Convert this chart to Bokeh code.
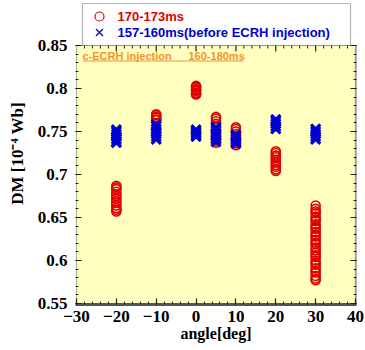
import numpy as np
from bokeh.plotting import figure
from bokeh.models import Range1d, LinearAxis, FixedTicker, Label, BoxAnnotation
from bokeh.embed import file_html
from bokeh.resources import INLINE

# ---------------- data ----------------
RED_LABEL = "170-173ms"
BLUE_LABEL = "157-160ms(before ECRH injection)"

red_at_m20 = [0.687, 0.685, 0.683, 0.680, 0.677, 0.675, 0.672, 0.669, 0.667, 0.664, 0.661, 0.659, 0.657]
red_at_m10 = [0.770, 0.769, 0.767, 0.766, 0.764, 0.763]
red_at_0 = [0.803, 0.802, 0.801, 0.799, 0.798, 0.797, 0.795, 0.794, 0.793]
red_at_5 = [0.767, 0.765, 0.762, 0.759, 0.755, 0.751, 0.747, 0.744, 0.741, 0.739, 0.737]
red_at_10 = [0.755, 0.753, 0.750, 0.747, 0.744, 0.741, 0.738, 0.736, 0.734]
red_at_20 = [0.727, 0.725, 0.722, 0.720, 0.717, 0.714, 0.711, 0.709, 0.706, 0.704]
red_at_30 = [0.664, 0.660, 0.657, 0.655, 0.651, 0.648, 0.646, 0.642, 0.639, 0.637,
             0.633, 0.630, 0.628, 0.624, 0.621, 0.619, 0.615, 0.612, 0.609, 0.606,
             0.604, 0.600, 0.597, 0.595, 0.591, 0.588, 0.586, 0.582, 0.579, 0.577]

blue_at_m20 = [0.752, 0.750, 0.747, 0.744, 0.741, 0.738, 0.737]
blue_at_m10 = [0.758, 0.756, 0.753, 0.750, 0.747, 0.744, 0.741]
blue_at_0 = [0.752, 0.750, 0.748, 0.746, 0.744]
blue_at_5 = [0.755, 0.752, 0.748, 0.745, 0.741, 0.738]
blue_at_10 = [0.746, 0.744, 0.741, 0.738, 0.736]
blue_at_20 = [0.764, 0.762, 0.759, 0.756, 0.753]
blue_at_30 = [0.753, 0.750, 0.747, 0.744, 0.741]

red_groups = {-20: red_at_m20, -10: red_at_m10, 0: red_at_0, 5: red_at_5,
              10: red_at_10, 20: red_at_20, 30: red_at_30}
blue_groups = {-20: blue_at_m20, -10: blue_at_m10, 0: blue_at_0, 5: blue_at_5,
               10: blue_at_10, 20: blue_at_20, 30: blue_at_30}

X_MIN, X_MAX = -30, 40
Y_MIN, Y_MAX = 0.55, 0.85
X_TICKS = [-30, -20, -10, 0, 10, 20, 30, 40]
Y_TICKS = [0.55, 0.6, 0.65, 0.7, 0.75, 0.8, 0.85]
Y_TICK_LABELS = ["0.55", "0.6", "0.65", "0.7", "0.75", "0.8", "0.85"]

NOTE_LEFT = "c-ECRH injection"
NOTE_RIGHT = "160-180ms"

# ---------------- styling / layout (pixels) ----------------
RED = "#E00000"
BLUE = "#0000D0"
ORANGE = "#F5922E"
YELLOW = "#FFFFC0"
SERIF = "Liberation Serif"
SANS = "Liberation Sans"

PAD = 1            # px between frame edge and plotting box
BOX_W, BOX_H = 279, 258   # yellow plotting box
LEG_PX = 43        # legend zone above the box (inside the frame)
kx = BOX_W / (X_MAX - X_MIN)   # px per degree
dy = (Y_MAX - Y_MIN) / BOX_H   # data per px


def xpx(px):   # px offset from box left -> data x
    return X_MIN + px / kx


def ypx(px):   # px offset above box top -> data y
    return Y_MAX + px * dy


def flatten(groups):
    xs, ys = [], []
    for ang, vals in groups.items():
        xs += [ang] * len(vals)
        ys += list(vals)
    return xs, ys


rx, ry = flatten(red_groups)
bx, by = flatten(blue_groups)

x_minor = list(np.arange(X_MIN, X_MAX + 0.001, 2.0))
y_minor = list(np.round(np.arange(Y_MIN, Y_MAX + 0.0001, 0.01), 3))

p = figure(frame_width=BOX_W + 2 * PAD, frame_height=BOX_H + LEG_PX + PAD,
           x_range=Range1d(X_MIN - PAD / kx, X_MAX + PAD / kx),
           y_range=Range1d(Y_MIN - PAD * dy, ypx(LEG_PX)),
           output_backend="svg", toolbar_location=None,
           min_border_left=75, min_border_right=8, min_border_top=2, min_border_bottom=30,
           background_fill_color="white", border_fill_color="white",
           outline_line_color=None)
p.grid.visible = False

# yellow plotting box with frame
p.add_layout(BoxAnnotation(left=X_MIN, right=X_MAX, bottom=Y_MIN, top=Y_MAX,
                           fill_color=YELLOW, fill_alpha=1.0, line_color="black",
                           line_width=1.2, level="underlay"))
# grey shadow along the right edge
p.add_layout(BoxAnnotation(left=X_MAX, right=X_MAX + 1.5 / kx, bottom=Y_MIN, top=Y_MAX,
                           fill_color="#777777", fill_alpha=1.0, line_color=None,
                           level="underlay"))

p.scatter(rx, ry, marker="circle", size=9, fill_color=None, line_color=RED, line_width=1.6)
p.scatter(bx, by, marker="x", size=13, line_color=BLUE, line_width=3)


def style_axis(ax, ticks, minor, show_labels):
    ax.ticker = FixedTicker(ticks=ticks, minor_ticks=minor)
    ax.major_tick_in = 6
    ax.major_tick_out = 0
    ax.minor_tick_in = 3
    ax.minor_tick_out = 0
    ax.major_tick_line_color = "#222222"
    ax.minor_tick_line_color = "#222222"
    ax.major_tick_line_width = 1.2
    if show_labels:
        ax.major_label_text_font = SERIF
        ax.major_label_text_font_style = "bold"
        ax.major_label_text_font_size = "17px"
        ax.major_label_text_color = "black"
        ax.axis_label_text_font = SERIF
        ax.axis_label_text_font_style = "bold"
        ax.axis_label_text_font_size = "17px"
        ax.axis_label_text_color = "black"
    else:
        ax.major_label_text_color = None
        ax.major_label_text_font_size = "1px"
        ax.major_label_standoff = 0


xa = p.xaxis[0]
ya = p.yaxis[0]
style_axis(xa, X_TICKS, x_minor, True)
style_axis(ya, Y_TICKS, y_minor, True)
xa.axis_line_color = "#555555"
xa.axis_line_width = 3
xa.axis_label = "angle[deg]"
xa.axis_label_text_font_size = "16px"
xa.major_label_standoff = 6
xa.axis_label_standoff = 0
ya.axis_line_color = None
ya.axis_label = "DM [10\u207b\u2074 Wb]"
ya.major_label_standoff = 8
ya.axis_label_standoff = 8
ya.major_label_overrides = {t: s for t, s in zip(Y_TICKS, Y_TICK_LABELS)}

ra = LinearAxis()
style_axis(ra, Y_TICKS, y_minor, False)
ra.axis_line_color = None
p.add_layout(ra, "right")

# ticks hanging from the top edge of the plotting box
top_major = [t for t in X_TICKS if X_MIN < t < X_MAX]
top_minor = [t for t in x_minor if X_MIN < t < X_MAX and t not in X_TICKS]
p.segment(x0=top_major, y0=[Y_MAX] * len(top_major), x1=top_major,
          y1=[Y_MAX - 6 * dy] * len(top_major), line_color="#222222", line_width=1.2)
p.segment(x0=top_minor, y0=[Y_MAX] * len(top_minor), x1=top_minor,
          y1=[Y_MAX - 3 * dy] * len(top_minor), line_color="#222222", line_width=1.0)

# annotation text (c-ECRH injection period)
for txt, off in [(NOTE_LEFT, 6), (NOTE_RIGHT, 112)]:
    p.add_layout(Label(x=xpx(off), y=ypx(-10), text=txt, text_color=ORANGE, text_font=SANS,
                       text_font_style="bold", text_font_size="11px", text_baseline="middle"))
p.add_layout(BoxAnnotation(left=xpx(6), right=xpx(167), bottom=ypx(-16), top=ypx(-15),
                           fill_color=ORANGE, fill_alpha=1.0, line_color=None))

# ---------------- legend box above the plotting box ----------------
p.add_layout(BoxAnnotation(left=xpx(6), right=xpx(BOX_W - 5), bottom=Y_MAX, top=ypx(LEG_PX - 1),
                           fill_color="white", fill_alpha=1.0, line_color="black",
                           line_width=1.2, level="underlay"))
MARK_OFF, TEXT_OFF, ROW_RED, ROW_BLUE = 23, 41, 29, 13
p.scatter([xpx(MARK_OFF)], [ypx(ROW_RED)], marker="circle", size=9, fill_color=None,
          line_color=RED, line_width=1.2)
p.scatter([xpx(MARK_OFF)], [ypx(ROW_BLUE)], marker="x", size=10, line_color=BLUE, line_width=1.2)
p.text([xpx(TEXT_OFF)], [ypx(ROW_RED)], text=[RED_LABEL], text_color=RED, text_font_style="bold",
       text_font_size="13px", text_baseline="middle", text_font={"value": SANS})
p.text([xpx(TEXT_OFF)], [ypx(ROW_BLUE)], text=[BLUE_LABEL], text_color=BLUE, text_font_style="bold",
       text_font_size="13px", text_baseline="middle", text_font={"value": SANS})

with open("out.html", "w") as f:
    f.write(file_html(p, INLINE))
